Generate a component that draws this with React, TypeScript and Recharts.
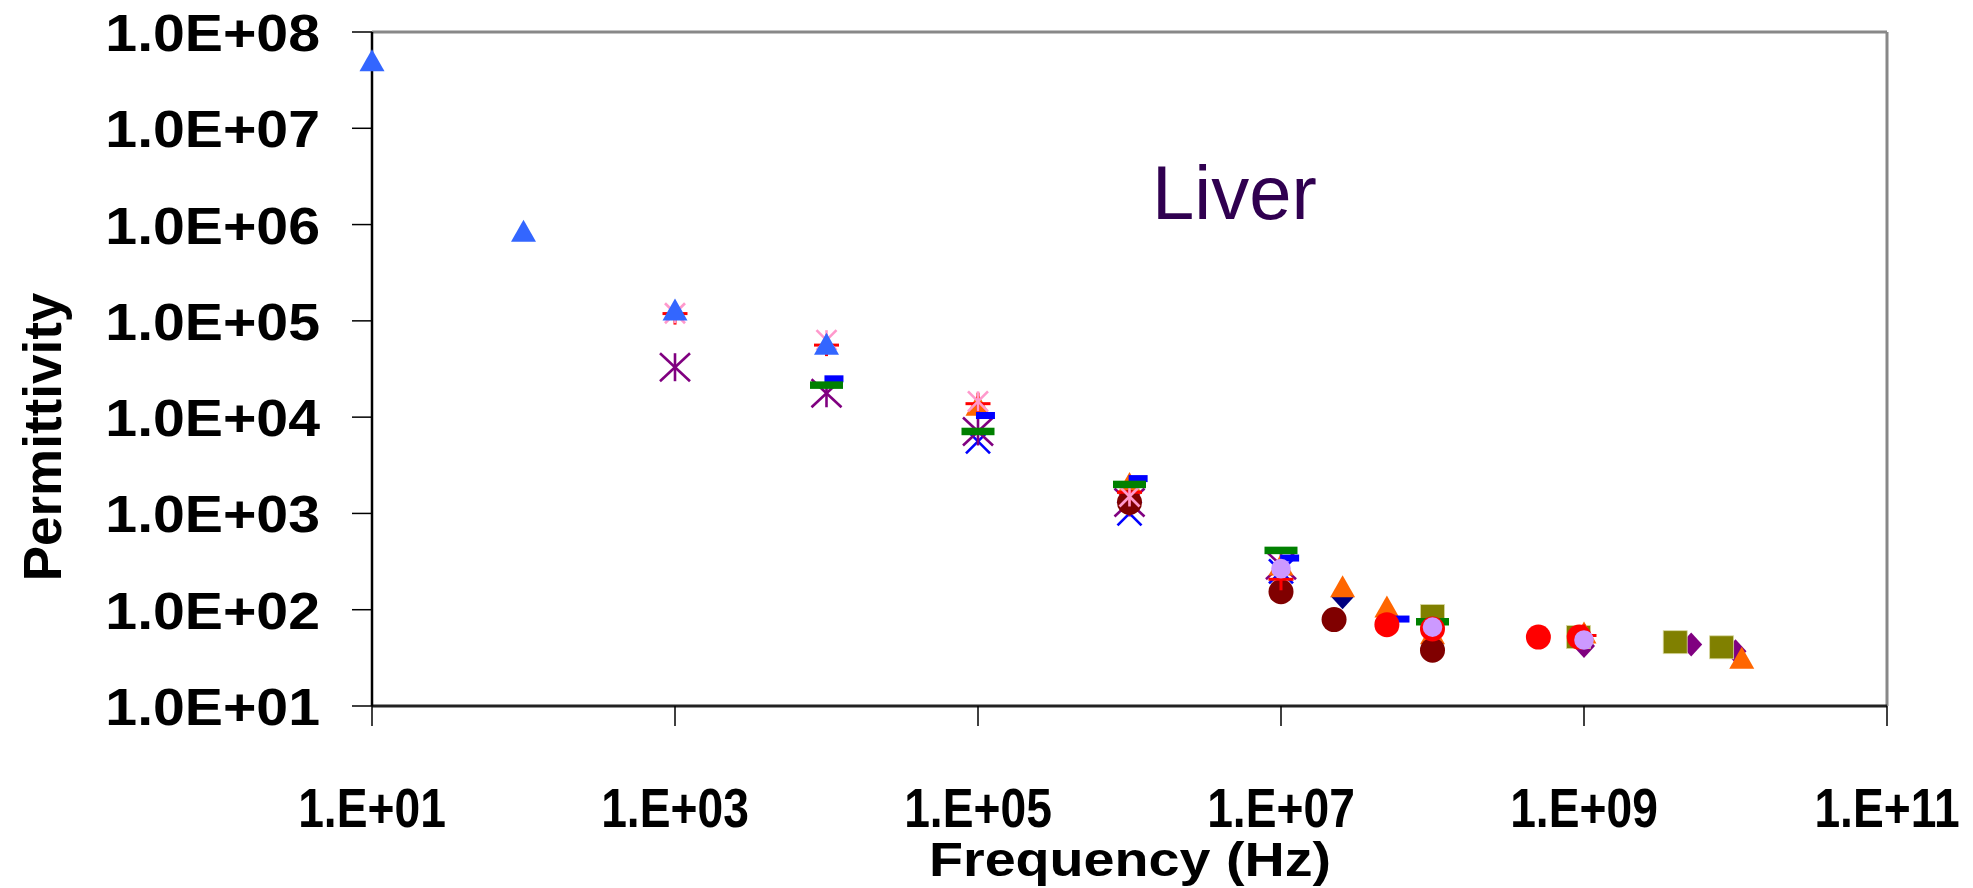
import React from 'react';
import { ScatterChart, Scatter, XAxis, YAxis, ReferenceLine, Label } from 'recharts';

// frequency (Hz) / permittivity pairs
const FREQ_TICKS = [1e1, 1e3, 1e5, 1e7, 1e9, 1e11];
const PERM_TICKS = [1e1, 1e2, 1e3, 1e4, 1e5, 1e6, 1e7, 1e8];

const purpleDiamond = [
  { f: 1e9, v: 42 },
  { f: 5.1e9, v: 43.5 },
  { f: 1e10, v: 37 },
];
const navyDiamond = [
  { f: 2.55e7, v: 135 },
  { f: 5e7, v: 86 },
];
const blueCross = [
  { f: 1e5, v: 5600 },
  { f: 1e6, v: 1000 },
  { f: 1e7, v: 250 },
];
const purpleStar = [
  { f: 1e3, v: 33000 },
  { f: 1e4, v: 17700 },
  { f: 1e5, v: 7100 },
  { f: 1e6, v: 1300 },
  { f: 1e7, v: 290 },
];
const oliveSquare = [
  { f: 1e8, v: 86 },
  { f: 9.2e8, v: 52 },
  { f: 4e9, v: 46 },
  { f: 8.1e9, v: 40.7 },
];
const orangeTriangle = [
  { f: 1e5, v: 12300 },
  { f: 1e6, v: 1900 },
  { f: 1e7, v: 270 },
  { f: 2.55e7, v: 160 },
  { f: 5e7, v: 99 },
  { f: 1e8, v: 52 },
  { f: 1e9, v: 53 },
  { f: 1.1e10, v: 29 },
];
const darkRedCircle = [
  { f: 1e6, v: 1300 },
  { f: 1e7, v: 154 },
  { f: 2.24e7, v: 79 },
  { f: 1e8, v: 38 },
];
const redPlus = [
  { f: 1e3, v: 119000 },
  { f: 1e4, v: 56000 },
  { f: 1e5, v: 13800 },
  { f: 1e6, v: 1660 },
  { f: 1e7, v: 207 },
  { f: 1e9, v: 54 },
];
const pinkStar = [
  { f: 1e3, v: 120000 },
  { f: 1e4, v: 63000 },
  { f: 1e5, v: 14600 },
  { f: 1e6, v: 1500 },
];
const blueTriangle = [
  { f: 1e1, v: 4.65e7 },
  { f: 1e2, v: 790000 },
  { f: 1e3, v: 120000 },
  { f: 1e4, v: 53000 },
];
const blueBar = [
  { f: 1.12e4, v: 25000 },
  { f: 1.12e5, v: 10400 },
  { f: 1.14e6, v: 2300 },
  { f: 1.14e7, v: 344 },
  { f: 6.1e7, v: 80 },
];
const greenDash = [
  { f: 1e4, v: 21500 },
  { f: 1e5, v: 7100 },
  { f: 1e6, v: 2000 },
  { f: 1e7, v: 413 },
  { f: 1e8, v: 75 },
];
const redCircle = [
  { f: 5e7, v: 70 },
  { f: 1e8, v: 63 },
  { f: 5e8, v: 52 },
  { f: 9.3e8, v: 52 },
];
const lavenderCircle = [
  { f: 1e7, v: 267 },
  { f: 1e8, v: 66 },
  { f: 1e9, v: 48.5 },
];

const FONT = '"Liberation Sans", Arial, sans-serif';

const pad = (n: number) => (n < 10 ? '0' + n : String(n));
const expOf = (v: number) => Math.round(Math.log10(v));

const YTick = (props: any) => {
  const { x, y, payload } = props;
  return (
    <g transform={`translate(${x},${y + 19}) scale(1.1,1)`}>
      <text textAnchor="end" fontFamily={FONT} fontSize={52} fontWeight="bold" fill="#000">
        {`1.0E+${pad(expOf(payload.value))}`}
      </text>
    </g>
  );
};

const XTick = (props: any) => {
  const { x, y, payload } = props;
  return (
    <g transform={`translate(${x},${y + 101}) scale(0.84,1)`}>
      <text textAnchor="middle" fontFamily={FONT} fontSize={55} fontWeight="bold" fill="#000">
        {`1.E+${pad(expOf(payload.value))}`}
      </text>
    </g>
  );
};

// marker shapes
const triangle = (fill: string) => (p: any) => (
  <polygon
    points={`${p.cx},${p.cy - 14.7} ${p.cx - 12.5},${p.cy + 7.3} ${p.cx + 12.5},${p.cy + 7.3}`}
    fill={fill}
  />
);
const circle = (fill: string, r: number) => (p: any) => <circle cx={p.cx} cy={p.cy} r={r} fill={fill} />;
const square = (fill: string) => (p: any) => (
  <rect x={p.cx - 12} y={p.cy - 11.5} width={24} height={23} fill={fill} stroke="#d8d8a0" strokeWidth={0.8} />
);
const diamond = (fill: string) => (p: any) => (
  <polygon
    points={`${p.cx},${p.cy - 12} ${p.cx + 11},${p.cy} ${p.cx},${p.cy + 12} ${p.cx - 11},${p.cy}`}
    fill={fill}
  />
);
const bar = (fill: string, w: number, h: number) => (p: any) => (
  <rect x={p.cx - w / 2} y={p.cy - h / 2} width={w} height={h} fill={fill} />
);
const star = (stroke: string, w: number, h: number) => (p: any) => (
  <g stroke={stroke} strokeWidth={2.6}>
    <line x1={p.cx} y1={p.cy - h / 2} x2={p.cx} y2={p.cy + h / 2} />
    <line x1={p.cx - w / 2} y1={p.cy - h / 2} x2={p.cx + w / 2} y2={p.cy + h / 2} />
    <line x1={p.cx - w / 2} y1={p.cy + h / 2} x2={p.cx + w / 2} y2={p.cy - h / 2} />
  </g>
);
const cross = (stroke: string) => (p: any) => (
  <g stroke={stroke} strokeWidth={2.6}>
    <line x1={p.cx - 12} y1={p.cy - 12} x2={p.cx + 12} y2={p.cy + 12} />
    <line x1={p.cx - 12} y1={p.cy + 12} x2={p.cx + 12} y2={p.cy - 12} />
  </g>
);
const plus = (stroke: string) => (p: any) => (
  <g stroke={stroke} strokeWidth={3}>
    <line x1={p.cx - 12.5} y1={p.cy} x2={p.cx + 12.5} y2={p.cy} />
    <line x1={p.cx} y1={p.cy - 11} x2={p.cx} y2={p.cy + 11} />
  </g>
);

const App: React.FC = () => {
  return (
    <div style={{ position: 'absolute', left: 0, top: 0, width: 1973, height: 888, background: '#fff' }}>
      <ScatterChart width={1973} height={888} margin={{ top: 32, right: 86, bottom: 0, left: 0 }}>
        <XAxis
          type="number"
          dataKey="f"
          scale="log"
          domain={[1e1, 1e11]}
          ticks={FREQ_TICKS}
          height={182}
          tickSize={20}
          tickMargin={0}
          axisLine={{ stroke: '#222', strokeWidth: 3 }}
          tickLine={{ stroke: '#000', strokeWidth: 1.5 }}
          tick={<XTick />}
          interval={0}
        >
          <Label
            content={() => (
              <g transform="translate(1130,876) scale(1.16,1)">
                <text textAnchor="middle" fontFamily={FONT} fontSize={48} fontWeight="bold" fill="#000">
                  Frequency (Hz)
                </text>
              </g>
            )}
          />
        </XAxis>
        <YAxis
          type="number"
          dataKey="v"
          scale="log"
          domain={[1e1, 1e8]}
          ticks={PERM_TICKS}
          width={372}
          tickSize={20}
          tickMargin={32}
          axisLine={{ stroke: '#000', strokeWidth: 2.5 }}
          tickLine={{ stroke: '#000', strokeWidth: 1.5 }}
          tick={<YTick />}
          interval={0}
        >
          <Label
            content={() => (
              <text
                x={61}
                y={437}
                transform="rotate(-90 61 437)"
                textAnchor="middle"
                fontFamily={FONT}
                fontSize={53}
                fontWeight="bold"
                fill="#000"
              >
                Permittivity
              </text>
            )}
          />
        </YAxis>
        <ReferenceLine y={1e8} stroke="#888" strokeWidth={3} />
        <ReferenceLine x={1e11} stroke="#888" strokeWidth={3} />

        <Scatter data={purpleDiamond} shape={diamond('#800080')} isAnimationActive={false} />
        <Scatter data={navyDiamond} shape={diamond('#000080')} isAnimationActive={false} />
        <Scatter data={blueCross} shape={cross('#0000FF')} isAnimationActive={false} />
        <Scatter data={purpleStar} shape={star('#800080', 30, 28)} isAnimationActive={false} />
        <Scatter data={oliveSquare} shape={square('#808000')} isAnimationActive={false} />
        <Scatter data={orangeTriangle} shape={triangle('#FF6600')} isAnimationActive={false} />
        <Scatter data={darkRedCircle} shape={circle('#800000', 12.5)} isAnimationActive={false} />
        <Scatter data={redPlus} shape={plus('#FF0000')} isAnimationActive={false} />
        <Scatter data={pinkStar} shape={star('#FF99CC', 20, 20)} isAnimationActive={false} />
        <Scatter data={blueTriangle} shape={triangle('#3366FF')} isAnimationActive={false} />
        <Scatter data={blueBar} shape={bar('#0000FF', 19, 7)} isAnimationActive={false} />
        <Scatter data={greenDash} shape={bar('#008000', 33, 7.5)} isAnimationActive={false} />
        <Scatter data={redCircle} shape={circle('#FF0000', 12.5)} isAnimationActive={false} />
        <Scatter data={lavenderCircle} shape={circle('#CC99FF', 9.8)} isAnimationActive={false} />
      </ScatterChart>
      <div
        style={{
          position: 'absolute',
          left: 1152,
          top: 227 - 72,
          fontFamily: FONT,
          fontSize: 76,
          lineHeight: '76px',
          color: '#300050',
          whiteSpace: 'nowrap',
        }}
      >
        Liver
      </div>
    </div>
  );
};

export default App;
